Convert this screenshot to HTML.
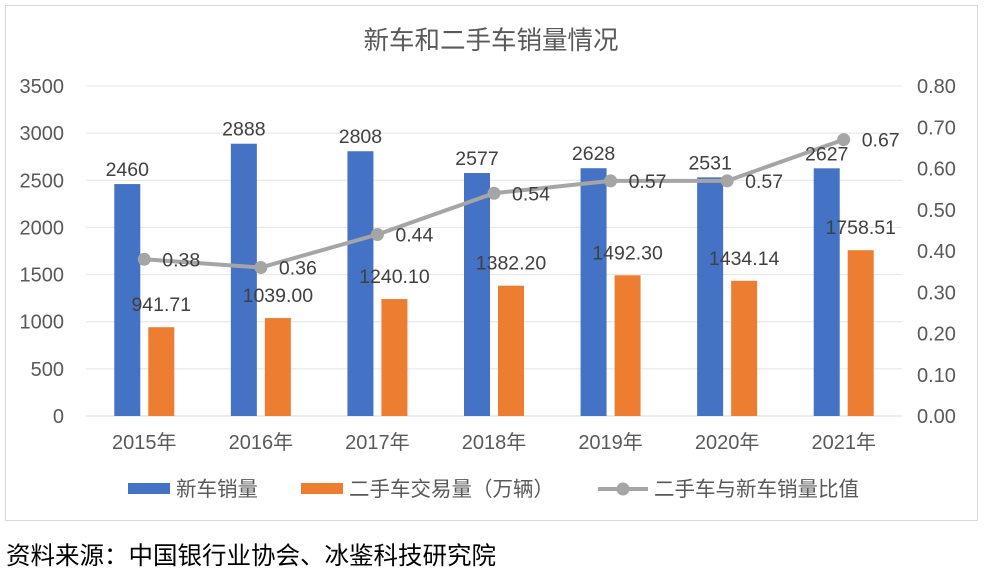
<!DOCTYPE html>
<html><head><meta charset="utf-8">
<style>
body{margin:0;background:#fff;width:985px;height:572px;overflow:hidden;font-family:"Liberation Sans","Noto Sans CJK SC",sans-serif;}
</style></head>
<body>
<svg id="chart" width="985" height="572" xmlns="http://www.w3.org/2000/svg" font-family="Liberation Sans, Noto Sans CJK SC, sans-serif">
<rect x="5.5" y="5.5" width="972" height="515" fill="#fff" stroke="#d9d9d9"/>
<text x="491" y="49" text-anchor="middle" font-size="25.5" fill="#595959">新车和二手车销量情况</text>
<g id="grid"></g><g id="bars"></g><g id="line"></g><g id="labels"></g>
<g>
<rect x="128" y="483" width="42" height="11" fill="#4472c4"/>
<text x="176" y="496" font-size="20.5" fill="#595959">新车销量</text>
<rect x="301" y="483" width="42" height="11" fill="#ed7d31"/>
<text x="349" y="496" font-size="20.5" fill="#595959">二手车交易量（万辆）</text>
<line x1="598" y1="489" x2="648" y2="489" stroke="#a5a5a5" stroke-width="4"/>
<circle cx="623" cy="489" r="6.5" fill="#a5a5a5"/>
<text x="654" y="496" font-size="20.5" fill="#595959">二手车与新车销量比值</text>
</g>
<text x="6" y="564" font-size="24.5" fill="#000">资料来源：中国银行业协会、冰鉴科技研究院</text>
</svg>
<script>
const categories=["2015年","2016年","2017年","2018年","2019年","2020年","2021年"];
const newCars=[2460,2888,2808,2577,2628,2531,2627];
const usedCars=[941.71,1039.00,1240.10,1382.20,1492.30,1434.14,1758.51];
const ratio=[0.38,0.36,0.44,0.54,0.57,0.57,0.67];
const leftTicks=[0,500,1000,1500,2000,2500,3000,3500];
const rightTicks=[0,0.1,0.2,0.3,0.4,0.5,0.6,0.7,0.8];
const NS="http://www.w3.org/2000/svg";
const X0=86,X1=902,Y0=416,Y1=86;
const yL=v=>Y0-(v/3500)*(Y0-Y1);
const yR=v=>Y0-(v/0.8)*(Y0-Y1);
const band=(X1-X0)/categories.length;
const xC=i=>X0+band*(i+0.5);
function mk(tag,attrs,parent){const e=document.createElementNS(NS,tag);for(const k in attrs)e.setAttribute(k,attrs[k]);document.getElementById(parent).appendChild(e);return e;}
leftTicks.forEach(t=>{
 const l=mk('line',{x1:X0,x2:X1,y1:yL(t),y2:yL(t),stroke:t===0?'#d9d9d9':'#e4e4e4'},'grid');
 
 
 const tx=mk('text',{x:64,y:yL(t)+7,'text-anchor':'end','font-size':20,fill:'#595959'},'grid');tx.textContent=t;
 
 
});
rightTicks.forEach(t=>{
 const tx=mk('text',{x:917,y:yR(t)+7,'font-size':20,fill:'#595959'},'grid');tx.textContent=t.toFixed(2);
 
 
});
categories.forEach((c,i)=>{
 const cx=xC(i);
 const tx=mk('text',{x:cx,y:449,'text-anchor':'middle','font-size':20,fill:'#595959'},'grid');tx.textContent=c;
 
 
 const b=mk('rect',{x:cx-30,y:yL(newCars[i]),width:26,height:Y0-yL(newCars[i]),fill:'#4472c4'},'bars');
 
 
 const o=mk('rect',{x:cx+4,y:yL(usedCars[i]),width:26,height:Y0-yL(usedCars[i]),fill:'#ed7d31'},'bars');
 
 
 const l1=mk('text',{x:cx-17,y:yL(newCars[i])-8,'text-anchor':'middle','font-size':19.5,fill:'#404040'},'labels');l1.textContent=newCars[i];
 
 
 const l2=mk('text',{x:cx+17,y:yL(usedCars[i])-16,'text-anchor':'middle','font-size':19.5,fill:'#404040'},'labels');l2.textContent=usedCars[i].toFixed(2);
 
 
});
const pts=ratio.map((r,i)=>xC(i)+','+yR(r)).join(' ');
const pl=mk('polyline',{points:pts,fill:'none',stroke:'#a5a5a5','stroke-width':4},'line');


ratio.forEach((r,i)=>{
 const c=mk('circle',{cx:xC(i),cy:yR(r),r:6.5,fill:'#a5a5a5'},'line');
 
 
 const t=mk('text',{x:xC(i)+18,y:yR(r)+7,'font-size':19.5,fill:'#404040'},'labels');t.textContent=r.toFixed(2);
 
 
});
</script>
</body></html>
